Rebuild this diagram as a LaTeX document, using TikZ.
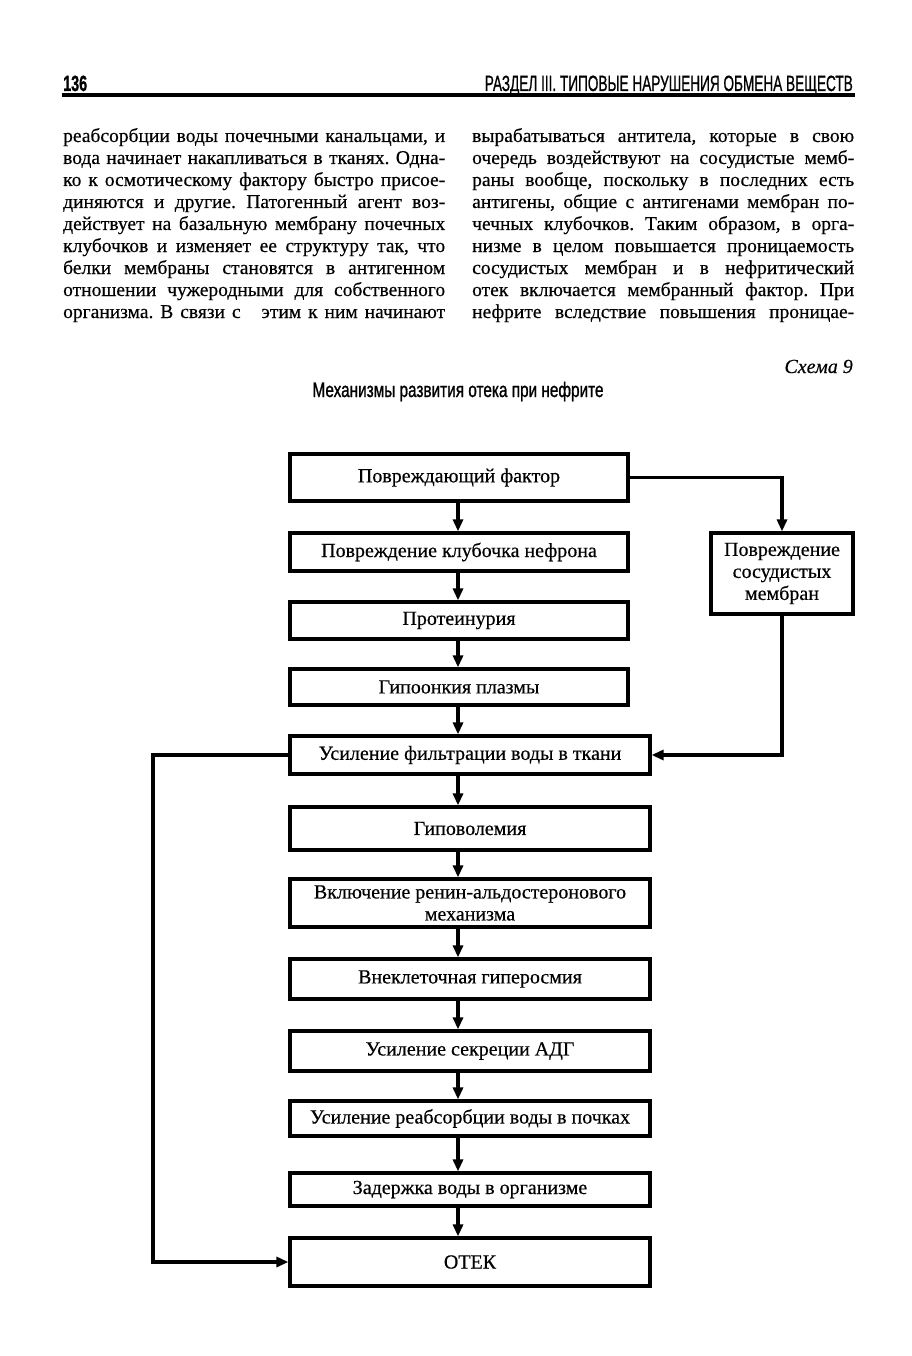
\documentclass[tikz,border=0pt]{standalone}
\usepackage{fontspec}
\usepackage{graphicx}
\setmainfont{Liberation Serif}[FakeBold=0.4]
\newfontfamily\hsans{Liberation Sans}[FakeBold=1.2]
\usetikzlibrary{arrows.meta}
\frenchspacing
\hbadness=10000
\hfuzz=60pt
\newcommand\jline[1]{\hbox to 382pt{#1}}
\tikzset{
  boxa/.style={draw, line width=3.2pt, minimum width=338pt, inner sep=0pt, align=center,
    font=\fontsize{20}{22}\selectfont},
  boxb/.style={boxa, minimum width=360pt},
  arr/.style={line width=3.2pt, -{Triangle[length=12pt,width=10pt]}},
  body/.style={anchor=base west, inner sep=0pt, font=\fontsize{19.5}{22}\selectfont},
}
\begin{document}
\begin{tikzpicture}[x=1pt,y=-1pt]
\useasboundingbox[fill=white] (0,0) rectangle (912,1356);
% header
\node[anchor=base west, inner sep=0pt] (pg) at (63,91) {\resizebox{24pt}{\height}{\fontsize{22}{22}\hsans\bfseries 136}};
\node[anchor=base east, inner sep=0pt] (hd) at (853,91) {\resizebox{368pt}{\height}{\fontsize{22}{22}\hsans РАЗДЕЛ III. ТИПОВЫЕ НАРУШЕНИЯ ОБМЕНА ВЕЩЕСТВ}};
\coordinate (rl) at (62,95);
\coordinate (rr) at (855,95);
\draw[line width=4pt] (rl) -- (rr);
% left column
\node[body] (l1) at (63,142) {\jline{реабсорбции воды почечными канальцами, и}};
\node[body] (l2) at (63,164) {\jline{вода начинает накапливаться в тканях. Одна-}};
\node[body] (l3) at (63,186) {\jline{ко к осмотическому фактору быстро присое-}};
\node[body] (l4) at (63,208) {\jline{диняются и другие. Патогенный агент воз-}};
\node[body] (l5) at (63,230) {\jline{действует на базальную мембрану почечных}};
\node[body] (l6) at (63,252) {\jline{клубочков и изменяет ее структуру так, что}};
\node[body] (l7) at (63,274) {\jline{белки мембраны становятся в антигенном}};
\node[body] (l8) at (63,296) {\jline{отношении чужеродными для собственного}};
\node[body] (l9) at (63,318) {\jline{организма. В связи с\ \ \ этим к ним начинают}};
% right column
\node[body] (r1) at (472,142) {\jline{вырабатываться антитела, которые в свою}};
\node[body] (r2) at (472,164) {\jline{очередь воздействуют на сосудистые мемб-}};
\node[body] (r3) at (472,186) {\jline{раны вообще, поскольку в последних есть}};
\node[body] (r4) at (472,208) {\jline{антигены, общие с антигенами мембран по-}};
\node[body] (r5) at (472,230) {\jline{чечных клубочков. Таким образом, в орга-}};
\node[body] (r6) at (472,252) {\jline{низме в целом повышается проницаемость}};
\node[body] (r7) at (472,274) {\jline{сосудистых мембран и в нефритический}};
\node[body] (r8) at (472,296) {\jline{отек включается мембранный фактор. При}};
\node[body] (r9) at (472,318) {\jline{нефрите вследствие повышения проницае-}};
% scheme caption
\node[anchor=base east, inner sep=0pt, font=\fontsize{20}{22}\selectfont\itshape] (sch) at (853,373) {Схема 9};
\node[anchor=base, inner sep=0pt] (ttl) at (458,397) {\resizebox{291pt}{\height}{\fontsize{21}{22}\hsans Механизмы развития отека при нефрите}};
% boxes
\node[boxa, minimum height=47pt] (b1) at (459,477.5) {Повреждающий фактор};
\node[boxa, minimum height=38pt] (b2) at (459,552) {Повреждение клубочка нефрона};
\node[boxa, minimum height=37pt] (b3) at (459,620.5) {Протеинурия};
\node[boxa, minimum height=36pt] (b4) at (459,687) {Гипоонкия плазмы};
\node[boxb, minimum height=38pt] (b5) at (470,755) {Усиление фильтрации воды в ткани};
\node[boxb, minimum height=43pt] (b6) at (470,828.5) {Гиповолемия};
\node[boxb, minimum height=48pt] (b7) at (470,903) {Включение ренин-альдостеронового\\механизма};
\node[boxb, minimum height=40pt] (b8) at (470,979) {Внеклеточная гиперосмия};
\node[boxb, minimum height=40pt] (b9) at (470,1051) {Усиление секреции АДГ};
\node[boxb, minimum height=35pt] (b10) at (470,1118.5) {Усиление реабсорбции воды в почках};
\node[boxb, minimum height=33pt] (b11) at (470,1189.5) {Задержка воды в организме};
\node[boxb, minimum height=48pt] (b12) at (470,1262) {ОТЕК};
\node[boxa, minimum width=142pt, minimum height=81pt] (rb) at (782,573.5) {Повреждение\\сосудистых\\мембран};
% connectors
\coordinate (ax) at (458,0);
\coordinate (lx) at (153,0);
\foreach \a/\b in {b1/b2,b2/b3,b3/b4,b4/b5,b5/b6,b6/b7,b7/b8,b8/b9,b9/b10,b10/b11,b11/b12}
  \draw[arr] (\a.south -| ax) -- (\b.north -| ax);
\draw[arr] (b1.east) -| (rb.north);
\draw[arr] (rb.south) |- (b5.east);
\draw[arr] (b5.west) -- (b5.west -| lx) |- (b12.west);
\end{tikzpicture}
\end{document}
